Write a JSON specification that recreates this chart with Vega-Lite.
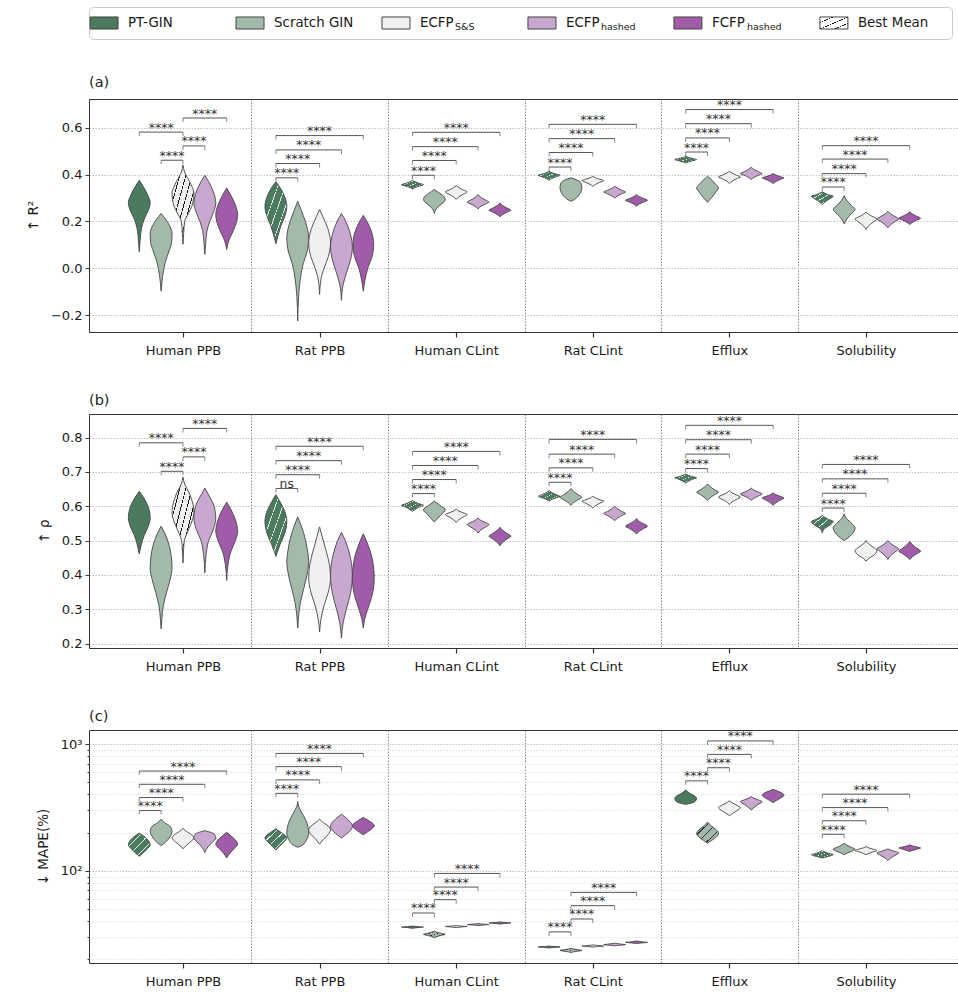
{
  "$schema": "https://vega.github.io/schema/vega-lite/v6.json",
  "padding": {"left": 25, "top": 6, "right": 0, "bottom": 0},
  "background": "white",
  "config": {
    "font": "DejaVu Sans",
    "view": {"stroke": "#333333", "strokeWidth": 1},
    "axis": {"labelFont": "DejaVu Sans", "titleFont": "DejaVu Sans", "labelColor": "#1a1a1a", "titleColor": "#1a1a1a", "tickColor": "#333333", "titleFontWeight": "normal", "labelFontSize": 13, "titleFontSize": 13.5},
    "concat": {"spacing": 34}
  },
  "datasets": {
    "models": [
      {"m": "PT-GIN", "k": 0},
      {"m": "Scratch GIN", "k": 1},
      {"m": "ECFP S&S", "k": 2},
      {"m": "ECFP hashed", "k": 3},
      {"m": "FCFP hashed", "k": 4}
    ],
    "sets": [
      {"d": "Human PPB", "i": 0},
      {"d": "Rat PPB", "i": 1},
      {"d": "Human CLint", "i": 2},
      {"d": "Rat CLint", "i": 3},
      {"d": "Efflux", "i": 4},
      {"d": "Solubility", "i": 5}
    ],
    "legend": [
      {"n": "PT-GIN", "lab": "PT-GIN", "sub": ""},
      {"n": "Scratch GIN", "lab": "Scratch GIN", "sub": ""},
      {"n": "ECFP S&S", "lab": "ECFP", "sub": "S&S"},
      {"n": "ECFP hashed", "lab": "ECFP", "sub": "hashed"},
      {"n": "FCFP hashed", "lab": "FCFP", "sub": "hashed"},
      {"n": "Best Mean", "lab": "Best Mean", "sub": ""}
    ],
    "va": [
      {"d": "Human PPB", "m": "PT-GIN", "v": [0.071,0.12,0.17,0.21,0.25,0.28,0.31,0.35,0.376], "w": [0,0.08,0.2,0.45,0.85,1,0.8,0.35,0]},
      {"d": "Human PPB", "m": "Scratch GIN", "v": [-0.097,-0.03,0.03,0.07,0.11,0.15,0.18,0.21,0.234], "w": [0,0.15,0.4,0.7,0.95,1,0.8,0.4,0]},
      {"d": "Human PPB", "m": "ECFP S&S", "best": true, "v": [0.103,0.15,0.2,0.23,0.27,0.32,0.37,0.41,0.44], "w": [0,0.06,0.15,0.45,0.85,1,0.6,0.15,0]},
      {"d": "Human PPB", "m": "ECFP hashed", "v": [0.06,0.11,0.16,0.2,0.24,0.28,0.33,0.37,0.397], "w": [0,0.08,0.2,0.45,0.8,1,0.75,0.35,0]},
      {"d": "Human PPB", "m": "FCFP hashed", "v": [0.081,0.12,0.15,0.19,0.23,0.27,0.31,0.343], "w": [0,0.2,0.5,0.85,1,0.8,0.4,0]},
      {"d": "Rat PPB", "m": "PT-GIN", "best": true, "v": [0.105,0.14,0.18,0.22,0.265,0.3,0.34,0.369], "w": [0,0.2,0.45,0.8,1,0.85,0.45,0]},
      {"d": "Rat PPB", "m": "Scratch GIN", "v": [-0.224,-0.12,-0.04,0.02,0.07,0.13,0.2,0.25,0.286], "w": [0,0.08,0.25,0.5,0.85,1,0.7,0.3,0]},
      {"d": "Rat PPB", "m": "ECFP S&S", "v": [-0.111,-0.04,0,0.05,0.11,0.17,0.22,0.251], "w": [0,0.15,0.4,0.8,1,0.75,0.3,0]},
      {"d": "Rat PPB", "m": "ECFP hashed", "v": [-0.136,-0.07,-0.02,0.04,0.09,0.15,0.2,0.234], "w": [0,0.15,0.45,0.85,1,0.8,0.4,0]},
      {"d": "Rat PPB", "m": "FCFP hashed", "v": [-0.097,-0.05,0,0.05,0.1,0.14,0.19,0.226], "w": [0,0.15,0.4,0.8,0.95,0.85,0.45,0]},
      {"d": "Human CLint", "m": "PT-GIN", "best": true, "v": [0.338,0.345,0.351,0.357,0.362,0.369,0.375], "w": [0,0.25,0.65,1,0.65,0.25,0]},
      {"d": "Human CLint", "m": "Scratch GIN", "v": [0.234,0.25,0.265,0.28,0.294,0.305,0.32,0.336], "w": [0,0.12,0.4,0.8,1,0.9,0.5,0]},
      {"d": "Human CLint", "m": "ECFP S&S", "v": [0.294,0.305,0.316,0.326,0.334,0.344,0.353], "w": [0,0.25,0.65,1,0.65,0.25,0]},
      {"d": "Human CLint", "m": "ECFP hashed", "v": [0.254,0.264,0.274,0.282,0.292,0.303,0.315], "w": [0,0.25,0.65,1,0.65,0.25,0]},
      {"d": "Human CLint", "m": "FCFP hashed", "v": [0.22,0.23,0.24,0.248,0.257,0.268,0.279], "w": [0,0.25,0.65,1,0.65,0.25,0]},
      {"d": "Rat CLint", "m": "PT-GIN", "best": true, "v": [0.376,0.383,0.391,0.397,0.402,0.408,0.414], "w": [0,0.25,0.65,1,0.65,0.25,0]},
      {"d": "Rat CLint", "m": "Scratch GIN", "v": [0.286,0.295,0.305,0.325,0.345,0.365,0.378,0.386], "w": [0,0.35,0.6,0.9,1,0.9,0.5,0]},
      {"d": "Rat CLint", "m": "ECFP S&S", "v": [0.35,0.358,0.367,0.374,0.38,0.386,0.393], "w": [0,0.25,0.65,1,0.65,0.25,0]},
      {"d": "Rat CLint", "m": "ECFP hashed", "v": [0.3,0.309,0.318,0.326,0.333,0.342,0.35], "w": [0,0.25,0.65,1,0.65,0.25,0]},
      {"d": "Rat CLint", "m": "FCFP hashed", "v": [0.265,0.274,0.283,0.29,0.298,0.306,0.315], "w": [0,0.25,0.65,1,0.65,0.25,0]},
      {"d": "Efflux", "m": "PT-GIN", "best": true, "v": [0.449,0.454,0.459,0.464,0.468,0.473,0.478], "w": [0,0.25,0.65,1,0.65,0.25,0]},
      {"d": "Efflux", "m": "Scratch GIN", "v": [0.282,0.303,0.325,0.343,0.358,0.376,0.393], "w": [0,0.4,0.75,1,0.75,0.4,0]},
      {"d": "Efflux", "m": "ECFP S&S", "v": [0.362,0.372,0.382,0.39,0.397,0.406,0.414], "w": [0,0.25,0.65,1,0.65,0.25,0]},
      {"d": "Efflux", "m": "ECFP hashed", "v": [0.379,0.388,0.397,0.404,0.412,0.422,0.431], "w": [0,0.25,0.65,1,0.65,0.25,0]},
      {"d": "Efflux", "m": "FCFP hashed", "v": [0.362,0.37,0.379,0.386,0.391,0.398,0.404], "w": [0,0.25,0.65,1,0.65,0.25,0]},
      {"d": "Solubility", "m": "PT-GIN", "best": true, "v": [0.272,0.285,0.297,0.308,0.313,0.32,0.326], "w": [0,0.3,0.7,1,0.6,0.25,0]},
      {"d": "Solubility", "m": "Scratch GIN", "v": [0.19,0.211,0.233,0.251,0.269,0.289,0.31], "w": [0,0.25,0.65,1,0.65,0.25,0]},
      {"d": "Solubility", "m": "ECFP S&S", "v": [0.166,0.182,0.197,0.211,0.22,0.23,0.24], "w": [0,0.25,0.65,1,0.65,0.25,0]},
      {"d": "Solubility", "m": "ECFP hashed", "v": [0.173,0.186,0.2,0.211,0.221,0.232,0.244], "w": [0,0.25,0.65,1,0.65,0.25,0]},
      {"d": "Solubility", "m": "FCFP hashed", "v": [0.187,0.196,0.206,0.214,0.222,0.232,0.241], "w": [0,0.25,0.65,1,0.65,0.25,0]}
    ],
    "vb": [
      {"d": "Human PPB", "m": "PT-GIN", "v": [0.461,0.49,0.515,0.54,0.566,0.6,0.625,0.644], "w": [0,0.2,0.45,0.8,1,0.8,0.4,0]},
      {"d": "Human PPB", "m": "Scratch GIN", "v": [0.243,0.27,0.31,0.35,0.39,0.42,0.45,0.49,0.52,0.542], "w": [0,0.06,0.2,0.5,0.85,1,0.95,0.7,0.35,0]},
      {"d": "Human PPB", "m": "ECFP S&S", "best": true, "v": [0.435,0.47,0.5,0.52,0.55,0.58,0.6,0.64,0.665,0.685], "w": [0,0.05,0.12,0.35,0.75,1,0.95,0.55,0.15,0]},
      {"d": "Human PPB", "m": "ECFP hashed", "v": [0.406,0.46,0.5,0.53,0.565,0.6,0.63,0.653], "w": [0,0.12,0.35,0.75,1,0.85,0.4,0]},
      {"d": "Human PPB", "m": "FCFP hashed", "v": [0.384,0.43,0.47,0.5,0.527,0.56,0.59,0.612], "w": [0,0.12,0.4,0.8,1,0.8,0.4,0]},
      {"d": "Rat PPB", "m": "PT-GIN", "best": true, "v": [0.454,0.465,0.49,0.52,0.556,0.59,0.615,0.634], "w": [0,0.12,0.4,0.8,1,0.75,0.35,0]},
      {"d": "Rat PPB", "m": "Scratch GIN", "v": [0.245,0.28,0.32,0.36,0.4,0.44,0.47,0.51,0.545,0.569], "w": [0,0.08,0.25,0.55,0.85,1,0.9,0.65,0.3,0]},
      {"d": "Rat PPB", "m": "ECFP S&S", "v": [0.234,0.27,0.31,0.35,0.39,0.43,0.47,0.51,0.54], "w": [0,0.12,0.4,0.8,1,0.9,0.6,0.25,0]},
      {"d": "Rat PPB", "m": "ECFP hashed", "v": [0.216,0.26,0.3,0.35,0.4,0.46,0.5,0.524], "w": [0,0.15,0.45,0.85,1,0.75,0.35,0]},
      {"d": "Rat PPB", "m": "FCFP hashed", "v": [0.245,0.27,0.3,0.34,0.39,0.45,0.49,0.52], "w": [0,0.12,0.4,0.8,1,0.8,0.4,0]},
      {"d": "Human CLint", "m": "PT-GIN", "best": true, "v": [0.585,0.591,0.598,0.603,0.607,0.612,0.617], "w": [0,0.25,0.65,1,0.65,0.25,0]},
      {"d": "Human CLint", "m": "Scratch GIN", "v": [0.554,0.563,0.575,0.59,0.603,0.615], "w": [0,0.25,0.6,1,0.5,0]},
      {"d": "Human CLint", "m": "ECFP S&S", "v": [0.553,0.561,0.569,0.576,0.581,0.586,0.592], "w": [0,0.25,0.65,1,0.65,0.25,0]},
      {"d": "Human CLint", "m": "ECFP hashed", "v": [0.522,0.531,0.539,0.547,0.553,0.559,0.566], "w": [0,0.25,0.65,1,0.65,0.25,0]},
      {"d": "Human CLint", "m": "FCFP hashed", "v": [0.485,0.495,0.505,0.513,0.521,0.53,0.539], "w": [0,0.25,0.65,1,0.65,0.25,0]},
      {"d": "Rat CLint", "m": "PT-GIN", "best": true, "v": [0.615,0.62,0.625,0.629,0.634,0.64,0.646], "w": [0,0.25,0.65,1,0.65,0.25,0]},
      {"d": "Rat CLint", "m": "Scratch GIN", "v": [0.603,0.611,0.619,0.626,0.634,0.643,0.652], "w": [0,0.25,0.65,1,0.65,0.25,0]},
      {"d": "Rat CLint", "m": "ECFP S&S", "v": [0.595,0.602,0.609,0.615,0.619,0.624,0.629], "w": [0,0.25,0.65,1,0.65,0.25,0]},
      {"d": "Rat CLint", "m": "ECFP hashed", "v": [0.558,0.565,0.573,0.579,0.585,0.593,0.6], "w": [0,0.25,0.65,1,0.65,0.25,0]},
      {"d": "Rat CLint", "m": "FCFP hashed", "v": [0.519,0.527,0.535,0.542,0.549,0.556,0.564], "w": [0,0.25,0.65,1,0.65,0.25,0]},
      {"d": "Efflux", "m": "PT-GIN", "best": true, "v": [0.668,0.673,0.679,0.683,0.686,0.69,0.694], "w": [0,0.25,0.65,1,0.65,0.25,0]},
      {"d": "Efflux", "m": "Scratch GIN", "v": [0.617,0.625,0.634,0.641,0.648,0.657,0.665], "w": [0,0.25,0.65,1,0.65,0.25,0]},
      {"d": "Efflux", "m": "ECFP S&S", "v": [0.605,0.613,0.62,0.627,0.633,0.639,0.646], "w": [0,0.25,0.65,1,0.65,0.25,0]},
      {"d": "Efflux", "m": "ECFP hashed", "v": [0.617,0.624,0.63,0.636,0.641,0.647,0.653], "w": [0,0.25,0.65,1,0.65,0.25,0]},
      {"d": "Efflux", "m": "FCFP hashed", "v": [0.603,0.61,0.618,0.624,0.629,0.634,0.639], "w": [0,0.25,0.65,1,0.65,0.25,0]},
      {"d": "Solubility", "m": "PT-GIN", "best": true, "v": [0.522,0.535,0.545,0.556,0.561,0.567,0.574], "w": [0,0.2,0.7,1,0.65,0.25,0]},
      {"d": "Solubility", "m": "Scratch GIN", "v": [0.5,0.508,0.52,0.537,0.55,0.565,0.578], "w": [0,0.35,0.75,1,0.7,0.2,0]},
      {"d": "Solubility", "m": "ECFP S&S", "v": [0.44,0.448,0.455,0.471,0.481,0.49,0.5], "w": [0,0.25,0.6,1,0.65,0.25,0]},
      {"d": "Solubility", "m": "ECFP hashed", "v": [0.445,0.456,0.467,0.476,0.483,0.492,0.5], "w": [0,0.25,0.65,1,0.65,0.25,0]},
      {"d": "Solubility", "m": "FCFP hashed", "v": [0.445,0.453,0.462,0.469,0.478,0.488,0.498], "w": [0,0.25,0.65,1,0.65,0.25,0]}
    ],
    "vc": [
      {"d": "Human PPB", "m": "PT-GIN", "best": true, "v": [130,138,148,160,170,185,198], "w": [0,0.35,0.7,1,0.9,0.5,0]},
      {"d": "Human PPB", "m": "Scratch GIN", "v": [158,168,185,205,225,240,255], "w": [0,0.4,0.8,1,0.8,0.3,0]},
      {"d": "Human PPB", "m": "ECFP S&S", "v": [149,157,168,181,192,205,216], "w": [0,0.25,0.65,1,0.8,0.3,0]},
      {"d": "Human PPB", "m": "ECFP hashed", "v": [139,155,168,181,190,200,207], "w": [0,0.3,0.7,1,0.95,0.6,0]},
      {"d": "Human PPB", "m": "FCFP hashed", "v": [126,138,150,162,175,188,201], "w": [0,0.3,0.7,1,0.8,0.4,0]},
      {"d": "Rat PPB", "m": "PT-GIN", "best": true, "v": [146,155,168,181,188,200,214], "w": [0,0.3,0.7,1,0.9,0.5,0]},
      {"d": "Rat PPB", "m": "Scratch GIN", "v": [153,160,175,198,220,255,290,320,352], "w": [0,0.45,0.8,1,0.95,0.7,0.35,0.1,0]},
      {"d": "Rat PPB", "m": "ECFP S&S", "v": [162,175,192,210,225,240,255], "w": [0,0.3,0.75,1,0.8,0.35,0]},
      {"d": "Rat PPB", "m": "ECFP hashed", "v": [181,190,205,223,240,262,279], "w": [0,0.3,0.75,1,0.85,0.4,0]},
      {"d": "Rat PPB", "m": "FCFP hashed", "v": [192,200,212,226,235,248,263], "w": [0,0.3,0.7,1,0.9,0.5,0]},
      {"d": "Human CLint", "m": "PT-GIN", "v": [35.1,35.4,35.7,35.9,36.1,36.4,36.6], "w": [0,0.25,0.65,1,0.65,0.25,0]},
      {"d": "Human CLint", "m": "Scratch GIN", "best": true, "v": [29.6,30.3,30.9,31.5,32.0,32.7,33.3], "w": [0,0.25,0.65,1,0.65,0.25,0]},
      {"d": "Human CLint", "m": "ECFP S&S", "v": [35.6,35.8,36.1,36.3,36.5,36.7,36.9], "w": [0,0.25,0.65,1,0.65,0.25,0]},
      {"d": "Human CLint", "m": "ECFP hashed", "v": [36.9,37.1,37.4,37.6,37.8,38.1,38.3], "w": [0,0.25,0.65,1,0.65,0.25,0]},
      {"d": "Human CLint", "m": "FCFP hashed", "v": [38.0,38.2,38.5,38.7,38.9,39.2,39.4], "w": [0,0.25,0.65,1,0.65,0.25,0]},
      {"d": "Rat CLint", "m": "PT-GIN", "v": [24.6,24.7,24.9,25.0,25.2,25.3,25.5], "w": [0,0.25,0.65,1,0.65,0.25,0]},
      {"d": "Rat CLint", "m": "Scratch GIN", "best": true, "v": [22.6,22.9,23.2,23.5,23.8,24.1,24.4], "w": [0,0.25,0.65,1,0.65,0.25,0]},
      {"d": "Rat CLint", "m": "ECFP S&S", "v": [25.0,25.1,25.3,25.4,25.6,25.8,26.0], "w": [0,0.25,0.65,1,0.65,0.25,0]},
      {"d": "Rat CLint", "m": "ECFP hashed", "v": [25.5,25.7,25.9,26.1,26.3,26.6,26.8], "w": [0,0.25,0.65,1,0.65,0.25,0]},
      {"d": "Rat CLint", "m": "FCFP hashed", "v": [26.6,26.8,27.0,27.2,27.4,27.7,27.9], "w": [0,0.25,0.65,1,0.65,0.25,0]},
      {"d": "Efflux", "m": "PT-GIN", "v": [334,342,355,373,390,410,434], "w": [0,0.55,0.9,1,0.8,0.35,0]},
      {"d": "Efflux", "m": "Scratch GIN", "best": true, "v": [165,173,185,198,210,225,242], "w": [0,0.35,0.8,1,0.8,0.35,0]},
      {"d": "Efflux", "m": "ECFP S&S", "v": [272,284,298,315,328,342,356], "w": [0,0.3,0.7,1,0.7,0.3,0]},
      {"d": "Efflux", "m": "ECFP hashed", "v": [302,316,333,351,362,373,385], "w": [0,0.25,0.6,1,0.65,0.25,0]},
      {"d": "Efflux", "m": "FCFP hashed", "v": [345,358,375,395,410,425,439], "w": [0,0.3,0.7,1,0.8,0.4,0]},
      {"d": "Solubility", "m": "PT-GIN", "best": true, "v": [126,128.5,131,134,137,140.5,144], "w": [0,0.35,0.75,1,0.6,0.25,0]},
      {"d": "Solubility", "m": "Scratch GIN", "v": [134,137.5,142,148,153,159,165], "w": [0,0.25,0.65,1,0.65,0.25,0]},
      {"d": "Solubility", "m": "ECFP S&S", "v": [134,137,141,144.5,148,151.5,155], "w": [0,0.25,0.65,1,0.65,0.25,0]},
      {"d": "Solubility", "m": "ECFP hashed", "v": [120,126,132,138,142,145.5,149], "w": [0,0.25,0.65,1,0.65,0.25,0]},
      {"d": "Solubility", "m": "FCFP hashed", "v": [142,144.5,148,151,154,157,160], "w": [0,0.25,0.65,1,0.65,0.25,0]}
    ],
    "ba": [
      {"d": "Human PPB", "a": "PT-GIN", "b": "ECFP S&S", "v": 0.581, "s": "****"},
      {"d": "Human PPB", "a": "Scratch GIN", "b": "ECFP S&S", "v": 0.461, "s": "****"},
      {"d": "Human PPB", "a": "ECFP S&S", "b": "ECFP hashed", "v": 0.522, "s": "****"},
      {"d": "Human PPB", "a": "ECFP S&S", "b": "FCFP hashed", "v": 0.641, "s": "****"},
      {"d": "Rat PPB", "a": "PT-GIN", "b": "Scratch GIN", "v": 0.386, "s": "****"},
      {"d": "Rat PPB", "a": "PT-GIN", "b": "ECFP S&S", "v": 0.447, "s": "****"},
      {"d": "Rat PPB", "a": "PT-GIN", "b": "ECFP hashed", "v": 0.505, "s": "****"},
      {"d": "Rat PPB", "a": "PT-GIN", "b": "FCFP hashed", "v": 0.566, "s": "****"},
      {"d": "Human CLint", "a": "PT-GIN", "b": "Scratch GIN", "v": 0.397, "s": "****"},
      {"d": "Human CLint", "a": "PT-GIN", "b": "ECFP S&S", "v": 0.46, "s": "****"},
      {"d": "Human CLint", "a": "PT-GIN", "b": "ECFP hashed", "v": 0.519, "s": "****"},
      {"d": "Human CLint", "a": "PT-GIN", "b": "FCFP hashed", "v": 0.58, "s": "****"},
      {"d": "Rat CLint", "a": "PT-GIN", "b": "Scratch GIN", "v": 0.432, "s": "****"},
      {"d": "Rat CLint", "a": "PT-GIN", "b": "ECFP S&S", "v": 0.494, "s": "****"},
      {"d": "Rat CLint", "a": "PT-GIN", "b": "ECFP hashed", "v": 0.553, "s": "****"},
      {"d": "Rat CLint", "a": "PT-GIN", "b": "FCFP hashed", "v": 0.614, "s": "****"},
      {"d": "Efflux", "a": "PT-GIN", "b": "Scratch GIN", "v": 0.496, "s": "****"},
      {"d": "Efflux", "a": "PT-GIN", "b": "ECFP S&S", "v": 0.556, "s": "****"},
      {"d": "Efflux", "a": "PT-GIN", "b": "ECFP hashed", "v": 0.617, "s": "****"},
      {"d": "Efflux", "a": "PT-GIN", "b": "FCFP hashed", "v": 0.677, "s": "****"},
      {"d": "Solubility", "a": "PT-GIN", "b": "Scratch GIN", "v": 0.347, "s": "****"},
      {"d": "Solubility", "a": "PT-GIN", "b": "ECFP S&S", "v": 0.404, "s": "****"},
      {"d": "Solubility", "a": "PT-GIN", "b": "ECFP hashed", "v": 0.466, "s": "****"},
      {"d": "Solubility", "a": "PT-GIN", "b": "FCFP hashed", "v": 0.523, "s": "****"}
    ],
    "bb": [
      {"d": "Human PPB", "a": "PT-GIN", "b": "ECFP S&S", "v": 0.785, "s": "****"},
      {"d": "Human PPB", "a": "Scratch GIN", "b": "ECFP S&S", "v": 0.702, "s": "****"},
      {"d": "Human PPB", "a": "ECFP S&S", "b": "ECFP hashed", "v": 0.744, "s": "****"},
      {"d": "Human PPB", "a": "ECFP S&S", "b": "FCFP hashed", "v": 0.827, "s": "****"},
      {"d": "Rat PPB", "a": "PT-GIN", "b": "Scratch GIN", "v": 0.652, "s": "ns"},
      {"d": "Rat PPB", "a": "PT-GIN", "b": "ECFP S&S", "v": 0.692, "s": "****"},
      {"d": "Rat PPB", "a": "PT-GIN", "b": "ECFP hashed", "v": 0.733, "s": "****"},
      {"d": "Rat PPB", "a": "PT-GIN", "b": "FCFP hashed", "v": 0.775, "s": "****"},
      {"d": "Human CLint", "a": "PT-GIN", "b": "Scratch GIN", "v": 0.637, "s": "****"},
      {"d": "Human CLint", "a": "PT-GIN", "b": "ECFP S&S", "v": 0.678, "s": "****"},
      {"d": "Human CLint", "a": "PT-GIN", "b": "ECFP hashed", "v": 0.719, "s": "****"},
      {"d": "Human CLint", "a": "PT-GIN", "b": "FCFP hashed", "v": 0.76, "s": "****"},
      {"d": "Rat CLint", "a": "PT-GIN", "b": "Scratch GIN", "v": 0.67, "s": "****"},
      {"d": "Rat CLint", "a": "PT-GIN", "b": "ECFP S&S", "v": 0.712, "s": "****"},
      {"d": "Rat CLint", "a": "PT-GIN", "b": "ECFP hashed", "v": 0.752, "s": "****"},
      {"d": "Rat CLint", "a": "PT-GIN", "b": "FCFP hashed", "v": 0.795, "s": "****"},
      {"d": "Efflux", "a": "PT-GIN", "b": "Scratch GIN", "v": 0.71, "s": "****"},
      {"d": "Efflux", "a": "PT-GIN", "b": "ECFP S&S", "v": 0.752, "s": "****"},
      {"d": "Efflux", "a": "PT-GIN", "b": "ECFP hashed", "v": 0.794, "s": "****"},
      {"d": "Efflux", "a": "PT-GIN", "b": "FCFP hashed", "v": 0.836, "s": "****"},
      {"d": "Solubility", "a": "PT-GIN", "b": "Scratch GIN", "v": 0.595, "s": "****"},
      {"d": "Solubility", "a": "PT-GIN", "b": "ECFP S&S", "v": 0.638, "s": "****"},
      {"d": "Solubility", "a": "PT-GIN", "b": "ECFP hashed", "v": 0.68, "s": "****"},
      {"d": "Solubility", "a": "PT-GIN", "b": "FCFP hashed", "v": 0.722, "s": "****"}
    ],
    "bc": [
      {"d": "Human PPB", "a": "PT-GIN", "b": "Scratch GIN", "v": 298.5, "s": "****"},
      {"d": "Human PPB", "a": "PT-GIN", "b": "ECFP S&S", "v": 378, "s": "****"},
      {"d": "Human PPB", "a": "PT-GIN", "b": "ECFP hashed", "v": 481, "s": "****"},
      {"d": "Human PPB", "a": "PT-GIN", "b": "FCFP hashed", "v": 612, "s": "****"},
      {"d": "Rat PPB", "a": "PT-GIN", "b": "Scratch GIN", "v": 408, "s": "****"},
      {"d": "Rat PPB", "a": "PT-GIN", "b": "ECFP S&S", "v": 521, "s": "****"},
      {"d": "Rat PPB", "a": "PT-GIN", "b": "ECFP hashed", "v": 663, "s": "****"},
      {"d": "Rat PPB", "a": "PT-GIN", "b": "FCFP hashed", "v": 843, "s": "****"},
      {"d": "Human CLint", "a": "PT-GIN", "b": "Scratch GIN", "v": 46.4, "s": "****"},
      {"d": "Human CLint", "a": "Scratch GIN", "b": "ECFP S&S", "v": 59.1, "s": "****"},
      {"d": "Human CLint", "a": "Scratch GIN", "b": "ECFP hashed", "v": 74.3, "s": "****"},
      {"d": "Human CLint", "a": "Scratch GIN", "b": "FCFP hashed", "v": 95.2, "s": "****"},
      {"d": "Rat CLint", "a": "PT-GIN", "b": "Scratch GIN", "v": 32.9, "s": "****"},
      {"d": "Rat CLint", "a": "Scratch GIN", "b": "ECFP S&S", "v": 41.6, "s": "****"},
      {"d": "Rat CLint", "a": "Scratch GIN", "b": "ECFP hashed", "v": 53.0, "s": "****"},
      {"d": "Rat CLint", "a": "Scratch GIN", "b": "FCFP hashed", "v": 67.5, "s": "****"},
      {"d": "Efflux", "a": "PT-GIN", "b": "Scratch GIN", "v": 512, "s": "****"},
      {"d": "Efflux", "a": "Scratch GIN", "b": "ECFP S&S", "v": 650, "s": "****"},
      {"d": "Efflux", "a": "Scratch GIN", "b": "ECFP hashed", "v": 828, "s": "****"},
      {"d": "Efflux", "a": "Scratch GIN", "b": "FCFP hashed", "v": 1057, "s": "****"},
      {"d": "Solubility", "a": "PT-GIN", "b": "Scratch GIN", "v": 194, "s": "****"},
      {"d": "Solubility", "a": "PT-GIN", "b": "ECFP S&S", "v": 248, "s": "****"},
      {"d": "Solubility", "a": "PT-GIN", "b": "ECFP hashed", "v": 315, "s": "****"},
      {"d": "Solubility", "a": "PT-GIN", "b": "FCFP hashed", "v": 402, "s": "****"}
    ]
  },
  "vconcat": [
    {
      "width": 863,
      "height": 32,
      "view": {"stroke": "#cccccc", "strokeWidth": 1, "cornerRadius": 4},
      "data": {"name": "legend"},
      "encoding": {
        "x": {"field": "n", "type": "nominal", "scale": {"type": "point", "domain": ["PT-GIN", "Scratch GIN", "ECFP S&S", "ECFP hashed", "FCFP hashed", "Best Mean"], "padding": 0.456, "align": 0.113}, "axis": null}
      },
      "layer": [
        {
          "mark": {"type": "point", "shape": "M-1,-0.43L1,-0.43L1,0.43L-1,0.43Z", "size": 784, "filled": true, "stroke": "#444444", "strokeWidth": 1, "opacity": 1},
          "encoding": {
            "fill": {
              "condition": {"test": "datum.n === 'Best Mean'", "value": {"gradient": "linear", "x1": 0, "y1": 0, "x2": 1, "y2": 1, "stops": [
                {"offset": 0, "color": "#ffffff"}, {"offset": 0.22, "color": "#ffffff"}, {"offset": 0.22, "color": "#111111"}, {"offset": 0.25, "color": "#111111"}, {"offset": 0.25, "color": "#ffffff"},
                {"offset": 0.485, "color": "#ffffff"}, {"offset": 0.485, "color": "#111111"}, {"offset": 0.515, "color": "#111111"}, {"offset": 0.515, "color": "#ffffff"},
                {"offset": 0.75, "color": "#ffffff"}, {"offset": 0.75, "color": "#111111"}, {"offset": 0.78, "color": "#111111"}, {"offset": 0.78, "color": "#ffffff"},
                {"offset": 1, "color": "#ffffff"}]}},
              "field": "n", "type": "nominal",
              "scale": {"domain": ["PT-GIN", "Scratch GIN", "ECFP S&S", "ECFP hashed", "FCFP hashed", "Best Mean"], "range": ["#4b7b5e", "#a3b9aa", "#f0f0f0", "#c8a8cf", "#a05ca8", "#ffffff"]},
              "legend": null
            }
          }
        },
        {
          "mark": {"type": "text", "align": "left", "baseline": "middle", "dx": 24, "fontSize": 13.4, "color": "#1a1a1a"},
          "encoding": {"text": {"field": "lab"}}
        },
        {
          "mark": {"type": "text", "align": "left", "baseline": "middle", "dx": 59, "dy": 4, "fontSize": 9.5, "color": "#1a1a1a"},
          "encoding": {"text": {"field": "sub"}}
        }
      ]
    },
    {
      "title": {"text": "(a)", "anchor": "start", "frame": "group", "fontSize": 14.5, "fontWeight": "normal", "offset": 8.5, "color": "#222222"},
      "width": 871,
      "height": 233,
      "encoding": {
        "y": {"field": "v", "type": "quantitative", "title": "↑ R²", "scale": {"domain": [-0.271, 0.722], "nice": false, "zero": false}, "axis": {"values": [-0.2, 0, 0.2, 0.4, 0.6], "format": ".1f", "grid": true, "gridDash": [1.5, 1.5], "gridColor": "#b3b3b3", "gridWidth": 0.8, "domain": false, "tickSize": 4, "labelPadding": 3, "titlePadding": 10}}
      },
      "layer": [
        {
          "data": {"name": "va"},
          "transform": [
            {"flatten": ["v", "w"]},
            {"lookup": "m", "from": {"data": {"name": "models"}, "key": "m", "fields": ["k"]}},
            {"lookup": "d", "from": {"data": {"name": "sets"}, "key": "d", "fields": ["i"]}},
            {"calculate": "datum.i * 6.25 + datum.k - datum.w / 2", "as": "xl"},
            {"calculate": "datum.i * 6.25 + datum.k + datum.w / 2", "as": "xr"}
          ],
          "mark": {"type": "area", "orient": "horizontal", "interpolate": "monotone", "stroke": "#444444", "strokeWidth": 0.9, "opacity": 1},
          "encoding": {
            "x": {"field": "xl", "type": "quantitative", "title": null, "scale": {"domain": [-2.3, 37.55], "nice": false, "zero": false}, "axis": {"values": [2, 8.25, 14.5, 20.75, 27, 33.25, 5.125, 11.375, 17.625, 23.875, 30.125], "labelExpr": "(datum.value - 2) % 6.25 == 0 ? ['Human PPB','Rat PPB','Human CLint','Rat CLint','Efflux','Solubility'][(datum.value - 2) / 6.25] : ''", "labelOverlap": false, "labelFlush": false, "labelAngle": 0, "domain": false, "tickSize": {"condition": {"test": "(datum.value - 2) % 6.25 == 0", "value": 5}, "value": 0}, "tickWidth": 1.2, "labelPadding": 7, "grid": true, "gridDash": [1.5, 1.5], "gridColor": "#8c8c8c", "gridWidth": 1, "gridOpacity": {"condition": {"test": "(datum.value - 2) % 6.25 == 0", "value": 0}, "value": 1}}},
            "x2": {"field": "xr"},
            "detail": {"field": "d"},
            "color": {
              "condition": [
                {"test": "datum.best && datum.m === 'ECFP S&S'", "value": {"gradient": "linear", "x1": 0, "y1": 0, "x2": 1, "y2": 1, "stops": [
                  {"offset": 0, "color": "#f0f0f0"}, {"offset": 0.09, "color": "#f0f0f0"}, {"offset": 0.09, "color": "#1a1a1a"}, {"offset": 0.11, "color": "#1a1a1a"}, {"offset": 0.11, "color": "#f0f0f0"},
                  {"offset": 0.23, "color": "#f0f0f0"}, {"offset": 0.23, "color": "#1a1a1a"}, {"offset": 0.25, "color": "#1a1a1a"}, {"offset": 0.25, "color": "#f0f0f0"},
                  {"offset": 0.37, "color": "#f0f0f0"}, {"offset": 0.37, "color": "#1a1a1a"}, {"offset": 0.39, "color": "#1a1a1a"}, {"offset": 0.39, "color": "#f0f0f0"},
                  {"offset": 0.51, "color": "#f0f0f0"}, {"offset": 0.51, "color": "#1a1a1a"}, {"offset": 0.53, "color": "#1a1a1a"}, {"offset": 0.53, "color": "#f0f0f0"},
                  {"offset": 0.65, "color": "#f0f0f0"}, {"offset": 0.65, "color": "#1a1a1a"}, {"offset": 0.67, "color": "#1a1a1a"}, {"offset": 0.67, "color": "#f0f0f0"},
                  {"offset": 0.79, "color": "#f0f0f0"}, {"offset": 0.79, "color": "#1a1a1a"}, {"offset": 0.81, "color": "#1a1a1a"}, {"offset": 0.81, "color": "#f0f0f0"},
                  {"offset": 0.93, "color": "#f0f0f0"}, {"offset": 0.93, "color": "#1a1a1a"}, {"offset": 0.95, "color": "#1a1a1a"}, {"offset": 0.95, "color": "#f0f0f0"},
                  {"offset": 1, "color": "#f0f0f0"}]}},
                {"test": "datum.best && datum.m === 'PT-GIN' && datum.d === 'Rat PPB'", "value": {"gradient": "linear", "x1": 0, "y1": 0, "x2": 1, "y2": 1, "stops": [
                  {"offset": 0, "color": "#4b7b5e"}, {"offset": 0.15, "color": "#4b7b5e"}, {"offset": 0.15, "color": "#e6eee8"}, {"offset": 0.17, "color": "#e6eee8"}, {"offset": 0.17, "color": "#4b7b5e"},
                  {"offset": 0.32, "color": "#4b7b5e"}, {"offset": 0.32, "color": "#e6eee8"}, {"offset": 0.34, "color": "#e6eee8"}, {"offset": 0.34, "color": "#4b7b5e"},
                  {"offset": 0.49, "color": "#4b7b5e"}, {"offset": 0.49, "color": "#e6eee8"}, {"offset": 0.51, "color": "#e6eee8"}, {"offset": 0.51, "color": "#4b7b5e"},
                  {"offset": 0.66, "color": "#4b7b5e"}, {"offset": 0.66, "color": "#e6eee8"}, {"offset": 0.68, "color": "#e6eee8"}, {"offset": 0.68, "color": "#4b7b5e"},
                  {"offset": 0.83, "color": "#4b7b5e"}, {"offset": 0.83, "color": "#e6eee8"}, {"offset": 0.85, "color": "#e6eee8"}, {"offset": 0.85, "color": "#4b7b5e"},
                  {"offset": 1, "color": "#4b7b5e"}]}},
                {"test": "datum.best && datum.m === 'PT-GIN'", "value": {"gradient": "linear", "x1": 0, "y1": 0, "x2": 1, "y2": 1, "stops": [
                  {"offset": 0, "color": "#4b7b5e"}, {"offset": 0.285, "color": "#4b7b5e"}, {"offset": 0.285, "color": "#e6eee8"}, {"offset": 0.315, "color": "#e6eee8"}, {"offset": 0.315, "color": "#4b7b5e"},
                  {"offset": 0.485, "color": "#4b7b5e"}, {"offset": 0.485, "color": "#e6eee8"}, {"offset": 0.515, "color": "#e6eee8"}, {"offset": 0.515, "color": "#4b7b5e"},
                  {"offset": 0.685, "color": "#4b7b5e"}, {"offset": 0.685, "color": "#e6eee8"}, {"offset": 0.715, "color": "#e6eee8"}, {"offset": 0.715, "color": "#4b7b5e"},
                  {"offset": 1, "color": "#4b7b5e"}]}}
              ],
              "field": "m", "type": "nominal",
              "scale": {"domain": ["PT-GIN", "Scratch GIN", "ECFP S&S", "ECFP hashed", "FCFP hashed"], "range": ["#4b7b5e", "#a3b9aa", "#f0f0f0", "#c8a8cf", "#a05ca8"]},
              "legend": null
            }
          }
        },
        {
          "data": {"name": "ba"},
          "transform": [
            {"fold": ["a", "b"], "as": ["end", "m"]},
            {"lookup": "m", "from": {"data": {"name": "models"}, "key": "m", "fields": ["k"]}},
            {"lookup": "d", "from": {"data": {"name": "sets"}, "key": "d", "fields": ["i"]}},
            {"calculate": "datum.i * 6.25 + datum.k", "as": "x"}
          ],
          "layer": [
            {
              "mark": {"type": "line", "color": "#555555", "strokeWidth": 1},
              "encoding": {
                "x": {"field": "x", "type": "quantitative", "title": null},
                "detail": [{"field": "d"}, {"field": "v", "type": "quantitative"}]
              }
            },
            {
              "mark": {"type": "tick", "orient": "vertical", "color": "#555555", "thickness": 1, "size": 4, "yOffset": 2},
              "encoding": {
                "x": {"field": "x", "type": "quantitative", "title": null}
              }
            },
            {
              "mark": {"type": "text", "baseline": "alphabetic", "fontSize": 12.5, "color": "#333333", "dy": -0.5},
              "encoding": {
                "x": {"aggregate": "mean", "field": "x", "type": "quantitative", "title": null},
                "text": {"field": "s"},
                "detail": [{"field": "a"}, {"field": "b"}, {"field": "d"}]
              }
            }
          ]
        }
      ]
    },
    {
      "title": {"text": "(b)", "anchor": "start", "frame": "group", "fontSize": 14.5, "fontWeight": "normal", "offset": 6, "color": "#222222"},
      "width": 871,
      "height": 234,
      "encoding": {
        "y": {"field": "v", "type": "quantitative", "title": "↑ ρ", "scale": {"domain": [0.187, 0.869], "nice": false, "zero": false}, "axis": {"values": [0.2, 0.3, 0.4, 0.5, 0.6, 0.7, 0.8], "format": ".1f", "grid": true, "gridDash": [1.5, 1.5], "gridColor": "#b3b3b3", "gridWidth": 0.8, "domain": false, "tickSize": 4, "labelPadding": 3, "titlePadding": 10}}
      },
      "layer": [
        {
          "data": {"name": "vb"},
          "transform": [
            {"flatten": ["v", "w"]},
            {"lookup": "m", "from": {"data": {"name": "models"}, "key": "m", "fields": ["k"]}},
            {"lookup": "d", "from": {"data": {"name": "sets"}, "key": "d", "fields": ["i"]}},
            {"calculate": "datum.i * 6.25 + datum.k - datum.w / 2", "as": "xl"},
            {"calculate": "datum.i * 6.25 + datum.k + datum.w / 2", "as": "xr"}
          ],
          "mark": {"type": "area", "orient": "horizontal", "interpolate": "monotone", "stroke": "#444444", "strokeWidth": 0.9, "opacity": 1},
          "encoding": {
            "x": {"field": "xl", "type": "quantitative", "title": null, "scale": {"domain": [-2.3, 37.55], "nice": false, "zero": false}, "axis": {"values": [2, 8.25, 14.5, 20.75, 27, 33.25, 5.125, 11.375, 17.625, 23.875, 30.125], "labelExpr": "(datum.value - 2) % 6.25 == 0 ? ['Human PPB','Rat PPB','Human CLint','Rat CLint','Efflux','Solubility'][(datum.value - 2) / 6.25] : ''", "labelOverlap": false, "labelFlush": false, "labelAngle": 0, "domain": false, "tickSize": {"condition": {"test": "(datum.value - 2) % 6.25 == 0", "value": 5}, "value": 0}, "tickWidth": 1.2, "labelPadding": 7, "grid": true, "gridDash": [1.5, 1.5], "gridColor": "#8c8c8c", "gridWidth": 1, "gridOpacity": {"condition": {"test": "(datum.value - 2) % 6.25 == 0", "value": 0}, "value": 1}}},
            "x2": {"field": "xr"},
            "detail": {"field": "d"},
            "color": {
              "condition": [
                {"test": "datum.best && datum.m === 'ECFP S&S'", "value": {"gradient": "linear", "x1": 0, "y1": 0, "x2": 1, "y2": 1, "stops": [
                  {"offset": 0, "color": "#f0f0f0"}, {"offset": 0.09, "color": "#f0f0f0"}, {"offset": 0.09, "color": "#1a1a1a"}, {"offset": 0.11, "color": "#1a1a1a"}, {"offset": 0.11, "color": "#f0f0f0"},
                  {"offset": 0.23, "color": "#f0f0f0"}, {"offset": 0.23, "color": "#1a1a1a"}, {"offset": 0.25, "color": "#1a1a1a"}, {"offset": 0.25, "color": "#f0f0f0"},
                  {"offset": 0.37, "color": "#f0f0f0"}, {"offset": 0.37, "color": "#1a1a1a"}, {"offset": 0.39, "color": "#1a1a1a"}, {"offset": 0.39, "color": "#f0f0f0"},
                  {"offset": 0.51, "color": "#f0f0f0"}, {"offset": 0.51, "color": "#1a1a1a"}, {"offset": 0.53, "color": "#1a1a1a"}, {"offset": 0.53, "color": "#f0f0f0"},
                  {"offset": 0.65, "color": "#f0f0f0"}, {"offset": 0.65, "color": "#1a1a1a"}, {"offset": 0.67, "color": "#1a1a1a"}, {"offset": 0.67, "color": "#f0f0f0"},
                  {"offset": 0.79, "color": "#f0f0f0"}, {"offset": 0.79, "color": "#1a1a1a"}, {"offset": 0.81, "color": "#1a1a1a"}, {"offset": 0.81, "color": "#f0f0f0"},
                  {"offset": 0.93, "color": "#f0f0f0"}, {"offset": 0.93, "color": "#1a1a1a"}, {"offset": 0.95, "color": "#1a1a1a"}, {"offset": 0.95, "color": "#f0f0f0"},
                  {"offset": 1, "color": "#f0f0f0"}]}},
                {"test": "datum.best && datum.m === 'PT-GIN' && datum.d === 'Rat PPB'", "value": {"gradient": "linear", "x1": 0, "y1": 0, "x2": 1, "y2": 1, "stops": [
                  {"offset": 0, "color": "#4b7b5e"}, {"offset": 0.15, "color": "#4b7b5e"}, {"offset": 0.15, "color": "#e6eee8"}, {"offset": 0.17, "color": "#e6eee8"}, {"offset": 0.17, "color": "#4b7b5e"},
                  {"offset": 0.32, "color": "#4b7b5e"}, {"offset": 0.32, "color": "#e6eee8"}, {"offset": 0.34, "color": "#e6eee8"}, {"offset": 0.34, "color": "#4b7b5e"},
                  {"offset": 0.49, "color": "#4b7b5e"}, {"offset": 0.49, "color": "#e6eee8"}, {"offset": 0.51, "color": "#e6eee8"}, {"offset": 0.51, "color": "#4b7b5e"},
                  {"offset": 0.66, "color": "#4b7b5e"}, {"offset": 0.66, "color": "#e6eee8"}, {"offset": 0.68, "color": "#e6eee8"}, {"offset": 0.68, "color": "#4b7b5e"},
                  {"offset": 0.83, "color": "#4b7b5e"}, {"offset": 0.83, "color": "#e6eee8"}, {"offset": 0.85, "color": "#e6eee8"}, {"offset": 0.85, "color": "#4b7b5e"},
                  {"offset": 1, "color": "#4b7b5e"}]}},
                {"test": "datum.best && datum.m === 'PT-GIN'", "value": {"gradient": "linear", "x1": 0, "y1": 0, "x2": 1, "y2": 1, "stops": [
                  {"offset": 0, "color": "#4b7b5e"}, {"offset": 0.285, "color": "#4b7b5e"}, {"offset": 0.285, "color": "#e6eee8"}, {"offset": 0.315, "color": "#e6eee8"}, {"offset": 0.315, "color": "#4b7b5e"},
                  {"offset": 0.485, "color": "#4b7b5e"}, {"offset": 0.485, "color": "#e6eee8"}, {"offset": 0.515, "color": "#e6eee8"}, {"offset": 0.515, "color": "#4b7b5e"},
                  {"offset": 0.685, "color": "#4b7b5e"}, {"offset": 0.685, "color": "#e6eee8"}, {"offset": 0.715, "color": "#e6eee8"}, {"offset": 0.715, "color": "#4b7b5e"},
                  {"offset": 1, "color": "#4b7b5e"}]}}
              ],
              "field": "m", "type": "nominal",
              "scale": {"domain": ["PT-GIN", "Scratch GIN", "ECFP S&S", "ECFP hashed", "FCFP hashed"], "range": ["#4b7b5e", "#a3b9aa", "#f0f0f0", "#c8a8cf", "#a05ca8"]},
              "legend": null
            }
          }
        },
        {
          "data": {"name": "bb"},
          "transform": [
            {"fold": ["a", "b"], "as": ["end", "m"]},
            {"lookup": "m", "from": {"data": {"name": "models"}, "key": "m", "fields": ["k"]}},
            {"lookup": "d", "from": {"data": {"name": "sets"}, "key": "d", "fields": ["i"]}},
            {"calculate": "datum.i * 6.25 + datum.k", "as": "x"}
          ],
          "layer": [
            {
              "mark": {"type": "line", "color": "#555555", "strokeWidth": 1},
              "encoding": {
                "x": {"field": "x", "type": "quantitative", "title": null},
                "detail": [{"field": "d"}, {"field": "v", "type": "quantitative"}]
              }
            },
            {
              "mark": {"type": "tick", "orient": "vertical", "color": "#555555", "thickness": 1, "size": 4, "yOffset": 2},
              "encoding": {
                "x": {"field": "x", "type": "quantitative", "title": null}
              }
            },
            {
              "mark": {"type": "text", "baseline": "alphabetic", "fontSize": 12.5, "color": "#333333", "dy": -0.5},
              "encoding": {
                "x": {"aggregate": "mean", "field": "x", "type": "quantitative", "title": null},
                "text": {"field": "s"},
                "detail": [{"field": "a"}, {"field": "b"}, {"field": "d"}]
              }
            }
          ]
        }
      ]
    },
    {
      "title": {"text": "(c)", "anchor": "start", "frame": "group", "fontSize": 14.5, "fontWeight": "normal", "offset": 6, "color": "#222222"},
      "width": 871,
      "height": 233,
      "encoding": {
        "y": {"field": "v", "type": "quantitative", "title": "↓ MAPE(%)", "scale": {"type": "log", "domain": [18.7, 1290], "nice": false}, "axis": {"values": [20, 30, 40, 50, 60, 70, 80, 90, 100, 200, 300, 400, 500, 600, 700, 800, 900, 1000], "labelExpr": "datum.value == 100 ? '10²' : datum.value == 1000 ? '10³' : ''", "labelOverlap": false, "grid": true, "gridDash": [1.5, 1.5], "gridColor": {"condition": {"test": "datum.value == 100 || datum.value == 1000", "value": "#b3b3b3"}, "value": "#dddddd"}, "gridWidth": 0.8, "domain": false, "tickSize": {"condition": {"test": "datum.value == 100 || datum.value == 1000", "value": 4}, "value": 2}, "labelPadding": 3, "titlePadding": 10}}
      },
      "layer": [
        {
          "data": {"name": "vc"},
          "transform": [
            {"flatten": ["v", "w"]},
            {"lookup": "m", "from": {"data": {"name": "models"}, "key": "m", "fields": ["k"]}},
            {"lookup": "d", "from": {"data": {"name": "sets"}, "key": "d", "fields": ["i"]}},
            {"calculate": "datum.i * 6.25 + datum.k - datum.w / 2", "as": "xl"},
            {"calculate": "datum.i * 6.25 + datum.k + datum.w / 2", "as": "xr"}
          ],
          "mark": {"type": "area", "orient": "horizontal", "interpolate": "monotone", "stroke": "#444444", "strokeWidth": 0.9, "opacity": 1},
          "encoding": {
            "x": {"field": "xl", "type": "quantitative", "title": null, "scale": {"domain": [-2.3, 37.55], "nice": false, "zero": false}, "axis": {"values": [2, 8.25, 14.5, 20.75, 27, 33.25, 5.125, 11.375, 17.625, 23.875, 30.125], "labelExpr": "(datum.value - 2) % 6.25 == 0 ? ['Human PPB','Rat PPB','Human CLint','Rat CLint','Efflux','Solubility'][(datum.value - 2) / 6.25] : ''", "labelOverlap": false, "labelFlush": false, "labelAngle": 0, "domain": false, "tickSize": {"condition": {"test": "(datum.value - 2) % 6.25 == 0", "value": 5}, "value": 0}, "tickWidth": 1.2, "labelPadding": 7, "grid": true, "gridDash": [1.5, 1.5], "gridColor": "#8c8c8c", "gridWidth": 1, "gridOpacity": {"condition": {"test": "(datum.value - 2) % 6.25 == 0", "value": 0}, "value": 1}}},
            "x2": {"field": "xr"},
            "detail": {"field": "d"},
            "color": {
              "condition": [
                {"test": "datum.best && datum.m === 'PT-GIN'", "value": {"gradient": "linear", "x1": 0, "y1": 0, "x2": 1, "y2": 1, "stops": [
                  {"offset": 0, "color": "#4b7b5e"}, {"offset": 0.285, "color": "#4b7b5e"}, {"offset": 0.285, "color": "#e6eee8"}, {"offset": 0.315, "color": "#e6eee8"}, {"offset": 0.315, "color": "#4b7b5e"},
                  {"offset": 0.485, "color": "#4b7b5e"}, {"offset": 0.485, "color": "#e6eee8"}, {"offset": 0.515, "color": "#e6eee8"}, {"offset": 0.515, "color": "#4b7b5e"},
                  {"offset": 0.685, "color": "#4b7b5e"}, {"offset": 0.685, "color": "#e6eee8"}, {"offset": 0.715, "color": "#e6eee8"}, {"offset": 0.715, "color": "#4b7b5e"},
                  {"offset": 1, "color": "#4b7b5e"}]}},
                {"test": "datum.best && datum.m === 'Scratch GIN'", "value": {"gradient": "linear", "x1": 0, "y1": 0, "x2": 1, "y2": 1, "stops": [
                  {"offset": 0, "color": "#a3b9aa"}, {"offset": 0.285, "color": "#a3b9aa"}, {"offset": 0.285, "color": "#2f2f2f"}, {"offset": 0.315, "color": "#2f2f2f"}, {"offset": 0.315, "color": "#a3b9aa"},
                  {"offset": 0.485, "color": "#a3b9aa"}, {"offset": 0.485, "color": "#2f2f2f"}, {"offset": 0.515, "color": "#2f2f2f"}, {"offset": 0.515, "color": "#a3b9aa"},
                  {"offset": 0.685, "color": "#a3b9aa"}, {"offset": 0.685, "color": "#2f2f2f"}, {"offset": 0.715, "color": "#2f2f2f"}, {"offset": 0.715, "color": "#a3b9aa"},
                  {"offset": 1, "color": "#a3b9aa"}]}}
              ],
              "field": "m", "type": "nominal",
              "scale": {"domain": ["PT-GIN", "Scratch GIN", "ECFP S&S", "ECFP hashed", "FCFP hashed"], "range": ["#4b7b5e", "#a3b9aa", "#f0f0f0", "#c8a8cf", "#a05ca8"]},
              "legend": null
            }
          }
        },
        {
          "data": {"name": "bc"},
          "transform": [
            {"fold": ["a", "b"], "as": ["end", "m"]},
            {"lookup": "m", "from": {"data": {"name": "models"}, "key": "m", "fields": ["k"]}},
            {"lookup": "d", "from": {"data": {"name": "sets"}, "key": "d", "fields": ["i"]}},
            {"calculate": "datum.i * 6.25 + datum.k", "as": "x"}
          ],
          "layer": [
            {
              "mark": {"type": "line", "color": "#555555", "strokeWidth": 1},
              "encoding": {
                "x": {"field": "x", "type": "quantitative", "title": null},
                "detail": [{"field": "d"}, {"field": "v", "type": "quantitative"}]
              }
            },
            {
              "mark": {"type": "tick", "orient": "vertical", "color": "#555555", "thickness": 1, "size": 4, "yOffset": 2},
              "encoding": {
                "x": {"field": "x", "type": "quantitative", "title": null}
              }
            },
            {
              "mark": {"type": "text", "baseline": "alphabetic", "fontSize": 12.5, "color": "#333333", "dy": -0.5},
              "encoding": {
                "x": {"aggregate": "mean", "field": "x", "type": "quantitative", "title": null},
                "text": {"field": "s"},
                "detail": [{"field": "a"}, {"field": "b"}, {"field": "d"}]
              }
            }
          ]
        }
      ]
    }
  ]
}
